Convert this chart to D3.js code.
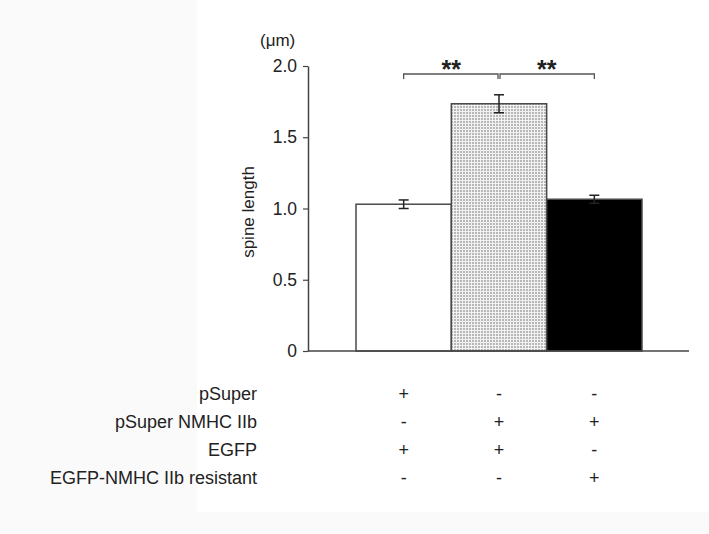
<!DOCTYPE html>
<html>
<head>
<meta charset="utf-8">
<script src="https://cdn.jsdelivr.net/npm/d3@7"></script>
<style>
  body { margin: 0; background: #fafafa; }
  svg { display: block; font-family: "Liberation Sans", Arial, sans-serif; }
</style>
</head>
<body>
<svg id="dessin" width="709" height="534"></svg>
<script>
// data
let groupes = ["g1", "g2", "g3"];
let moyennes = [1.03, 1.735, 1.065];
let erreurs = [0.03, 0.063, 0.028];
let remplissages = ["white", "url(#grille)", "black"];
let ticksY = [0, 0.5, 1.0, 1.5, 2.0];
let lignesTableau = ["pSuper", "pSuper NMHC IIb", "EGFP", "EGFP-NMHC IIb resistant"];
let signes = [
  ["+", "-", "-"],
  ["-", "+", "+"],
  ["+", "+", "-"],
  ["-", "-", "+"]
];
let comparaisons = [[0, 1, "**"], [1, 2, "**"]];

const svg = d3.select("#dessin");

// white panel (reference has a very faint grey margin on the left)
svg.append("rect").attr("x", 197).attr("y", 0).attr("width", 512).attr("height", 512).attr("fill", "white");

// pattern for the middle bar
const defs = svg.append("defs");
const pat = defs.append("pattern")
    .attr("id", "grille")
    .attr("patternUnits", "userSpaceOnUse")
    .attr("width", 3).attr("height", 3);
pat.append("rect").attr("width", 3).attr("height", 3).attr("fill", "#b8b8b8");
pat.append("rect").attr("width", 3).attr("height", 1).attr("fill", "#f2f2f2");
pat.append("rect").attr("width", 1).attr("height", 3).attr("fill", "#f2f2f2");

const y = d3.scaleLinear().domain([0, 2]).range([351, 66]);
const x = d3.scaleBand().domain(groupes).range([356, 642]).padding(0);

// bars
svg.selectAll(".barre")
    .data(moyennes)
    .enter()
    .append("rect")
    .attr("class", "barre")
    .attr("x", (d, i) => x(groupes[i]))
    .attr("y", d => y(d))
    .attr("width", x.bandwidth())
    .attr("height", d => y(0) - y(d))
    .attr("fill", (d, i) => remplissages[i])
    .attr("stroke", "#4a4a4a")
    .attr("stroke-width", 1.5);

// error bars (upper and lower)
const cx = i => x(groupes[i]) + x.bandwidth() / 2;
const err = svg.append("g").attr("stroke", "#222").attr("stroke-width", 1.5).attr("fill", "none");
moyennes.forEach((m, i) => {
  const e = erreurs[i];
  err.append("line").attr("x1", cx(i)).attr("x2", cx(i)).attr("y1", y(m - e)).attr("y2", y(m + e));
  err.append("line").attr("x1", cx(i) - 5).attr("x2", cx(i) + 5).attr("y1", y(m + e)).attr("y2", y(m + e));
  err.append("line").attr("x1", cx(i) - 5).attr("x2", cx(i) + 5).attr("y1", y(m - e)).attr("y2", y(m - e));
});

// y axis
const axeY = d3.axisLeft(y)
    .tickValues(ticksY)
    .tickFormat(d => d === 0 ? "0" : d3.format(".1f")(d))
    .tickSize(5)
    .tickPadding(6)
    .tickSizeOuter(0);

const gY = svg.append("g")
    .attr("transform", "translate(308,0)")
    .call(axeY);
gY.select(".domain").attr("stroke", "#444").attr("stroke-width", 1.5);
gY.selectAll(".tick line").attr("stroke", "#444").attr("stroke-width", 1.2);
gY.selectAll(".tick text").style("font-size", "17.5px").attr("fill", "#222").style("font-family", "Liberation Sans, Arial, sans-serif");

// baseline
svg.append("line")
    .attr("x1", 308).attr("x2", 689)
    .attr("y1", y(0)).attr("y2", y(0))
    .attr("stroke", "#444").attr("stroke-width", 1.5);

// axis labels
svg.append("text")
    .attr("transform", `translate(254,212) rotate(-90)`)
    .attr("text-anchor", "middle")
    .style("font-size", "17px")
    .attr("fill", "#222")
    .text("spine length");

svg.append("text")
    .attr("x", 260).attr("y", 46)
    .style("font-size", "17px")
    .attr("fill", "#222")
    .text("(μm)");

// significance brackets
const yBr = 74;
comparaisons.forEach(([a, b, lab]) => {
  const x1 = cx(a) + (a === 1 ? 1 : 0), x2 = cx(b) - (b === 1 ? 1 : 0);
  svg.append("path")
      .attr("d", `M${x1},${yBr + 5}V${yBr}H${x2}V${yBr + 5}`)
      .attr("fill", "none").attr("stroke", "#555").attr("stroke-width", 1.3);
  svg.append("text")
      .attr("x", (cx(a) + cx(b)) / 2).attr("y", 78)
      .attr("text-anchor", "middle")
      .style("font-size", "25px")
      .style("font-weight", "bold")
      .attr("fill", "#222")
      .text(lab);
});

// condition table under the chart
const yLigne = d3.scalePoint().domain(lignesTableau).range([394, 478]);
svg.selectAll(".nomLigne")
    .data(lignesTableau)
    .enter()
    .append("text")
    .attr("class", "nomLigne")
    .attr("x", 257)
    .attr("y", d => yLigne(d))
    .attr("dy", "0.35em")
    .attr("text-anchor", "end")
    .style("font-size", "18px")
    .attr("fill", "#222")
    .text(d => d);

signes.forEach((ligne, r) => {
  ligne.forEach((s, c) => {
    svg.append("text")
        .attr("x", cx(c))
        .attr("y", yLigne(lignesTableau[r]))
        .attr("dy", "0.35em")
        .attr("text-anchor", "middle")
        .style("font-size", "18px")
        .attr("fill", "#222")
        .text(s);
  });
});
</script>
</body>
</html>
